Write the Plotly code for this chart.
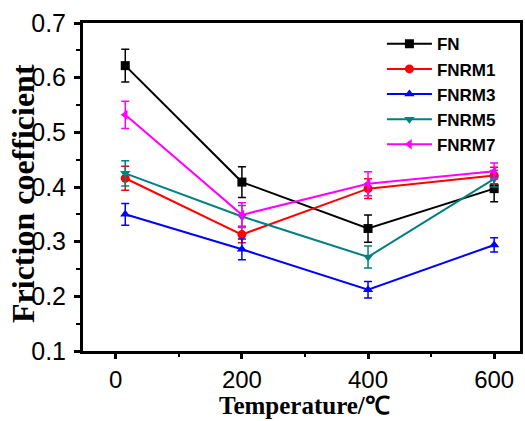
import plotly.graph_objects as go

# Test temperatures (°C) and measured friction coefficients
temperature = [15, 200, 400, 600]

fn = [0.622, 0.409, 0.324, 0.397]
fn_err = [0.030, 0.028, 0.025, 0.024]

fnrm1 = [0.416, 0.313, 0.397, 0.421]
fnrm1_err = [0.022, 0.015, 0.018, 0.015]

fnrm3 = [0.350, 0.286, 0.212, 0.294]
fnrm3_err = [0.020, 0.019, 0.015, 0.013]

fnrm5 = [0.425, 0.346, 0.272, 0.415]
fnrm5_err = [0.023, 0.020, 0.020, 0.015]

fnrm7 = [0.532, 0.349, 0.406, 0.429]
fnrm7_err = [0.025, 0.022, 0.022, 0.015]

series = [
    ("FN", fn, fn_err, "#000000", "square"),
    ("FNRM1", fnrm1, fnrm1_err, "#FF0000", "circle"),
    ("FNRM3", fnrm3, fnrm3_err, "#0000FF", "triangle-up"),
    ("FNRM5", fnrm5, fnrm5_err, "#008080", "triangle-down"),
    ("FNRM7", fnrm7, fnrm7_err, "#FF00FF", "triangle-left"),
]

fig = go.Figure()
for name, vals, errs, color, symbol in series:
    fig.add_trace(go.Scatter(
        x=temperature, y=vals, name=f"<b>{name}</b>",
        mode="lines+markers",
        line=dict(color=color, width=2),
        marker=dict(symbol=symbol, size=9, color=color),
        error_y=dict(type="data", array=errs, visible=True,
                     color=color, thickness=1.5, width=4),
    ))

tick_family = "Liberation Sans, Arial, sans-serif"

fig.update_layout(
    width=525, height=421,
    margin=dict(l=83, r=2, t=23, b=70),
    paper_bgcolor="white", plot_bgcolor="white",
    showlegend=True,
    legend=dict(
        x=0.684, y=0.99, xanchor="left", yanchor="top",
        bgcolor="rgba(0,0,0,0)",
        font=dict(family=tick_family, size=17, color="#000"),
        tracegroupgap=0,
        itemwidth=45,
    ),
    xaxis=dict(
        range=[-52, 641], tickmode="linear", tick0=0, dtick=200,
        showgrid=False, zeroline=False,
        showline=True, linecolor="black", linewidth=3, mirror=True,
        ticks="outside", ticklen=5, tickwidth=2.5, tickcolor="black",
        minor=dict(ticks="outside", ticklen=3, tickwidth=2, tickcolor="black",
                   dtick=100, tick0=0, showgrid=False),
        tickfont=dict(family=tick_family, size=24, color="#000"),
    ),
    yaxis=dict(
        range=[0.1, 0.7], tickmode="linear", tick0=0.1, dtick=0.1,
        tickformat=".1f",
        showgrid=False, zeroline=False,
        showline=True, linecolor="black", linewidth=3, mirror=True,
        ticks="outside", ticklen=6, tickwidth=2.5, tickcolor="black",
        minor=dict(ticks="outside", ticklen=4, tickwidth=2, tickcolor="black",
                   dtick=0.05, tick0=0.1, showgrid=False),
        tickfont=dict(family=tick_family, size=25, color="#000"),
        ticklabelstandoff=3,
    ),
    annotations=[
        dict(text="<b>Friction coefficient</b>", xref="paper", yref="paper",
             x=-0.1386, y=0.48, xanchor="center", yanchor="middle",
             textangle=-90, showarrow=False,
             font=dict(family="Liberation Serif, Times New Roman, serif",
                       size=32, color="#000")),
        dict(text="<b>Temperature/℃</b>", xref="paper", yref="paper",
             x=0.506, y=-0.2128, xanchor="center", yanchor="bottom",
             showarrow=False,
             font=dict(family="Liberation Serif, Times New Roman, serif",
                       size=25, color="#000")),
    ],
)

fig.write_html("out.html")
